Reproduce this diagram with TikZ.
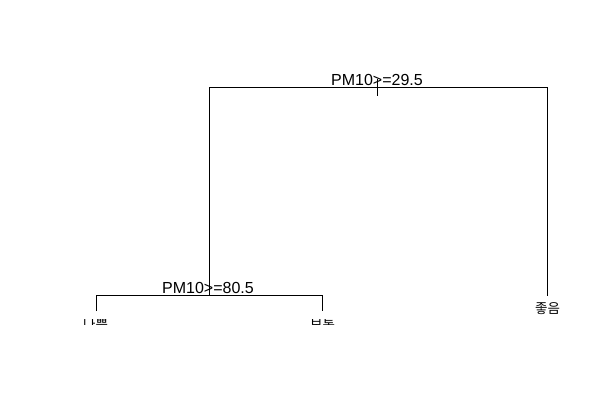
\documentclass[tikz,border=0pt]{standalone}
\usepackage{fontspec}
\setmainfont{Liberation Sans}
\newfontfamily\kor{Noto Sans CJK KR}
\usetikzlibrary{positioning}

\begin{document}
\begin{tikzpicture}[x=1pt, y=-1pt,
				split/.style = {font=\fontsize{16}{16}\selectfont, inner sep=0pt, anchor=base},
				leaf/.style = {font=\kor\fontsize{13.5}{13.5}\selectfont, inner sep=0pt, anchor=base},
				branch/.style = {line width=1.1pt}
				]
				\useasboundingbox (0,0) rectangle (606,418);
				
				% split points and leaf ends
				\coordinate (s1) at (377.5,87.5);
				\coordinate (s2) at (209.5,295.5);
				\coordinate (endA) at (96.5,311);
				\coordinate (endB) at (322.5,311);
				\coordinate (endC) at (547.5,296);
				\coordinate (tickT) at (377.5,79);
				\coordinate (tickB) at (377.5,96);
				
				\node[split] (lab1) at (377,85.5) {PM10>=29.5};
				\node[split] (lab2) at (208,293) {PM10>=80.5};
				\node[leaf] (leafC) at (547.5,313.5) {좋음};
				
				% leaves that show only a strip
				\begin{scope}
					\clip (70,319) rectangle (345,324);
					\node[leaf] (leafA) at (95.5,329) {나쁨};
					\node[leaf] (leafB) at (322.5,329) {보통};
				\end{scope}
				
				\draw[branch] (s2) |- (s1) -| (endC);
				\draw[branch] (endA) |- (s2) -| (endB);
				\draw[branch] (tickT) -- (tickB);
			\end{tikzpicture}
\end{document}
